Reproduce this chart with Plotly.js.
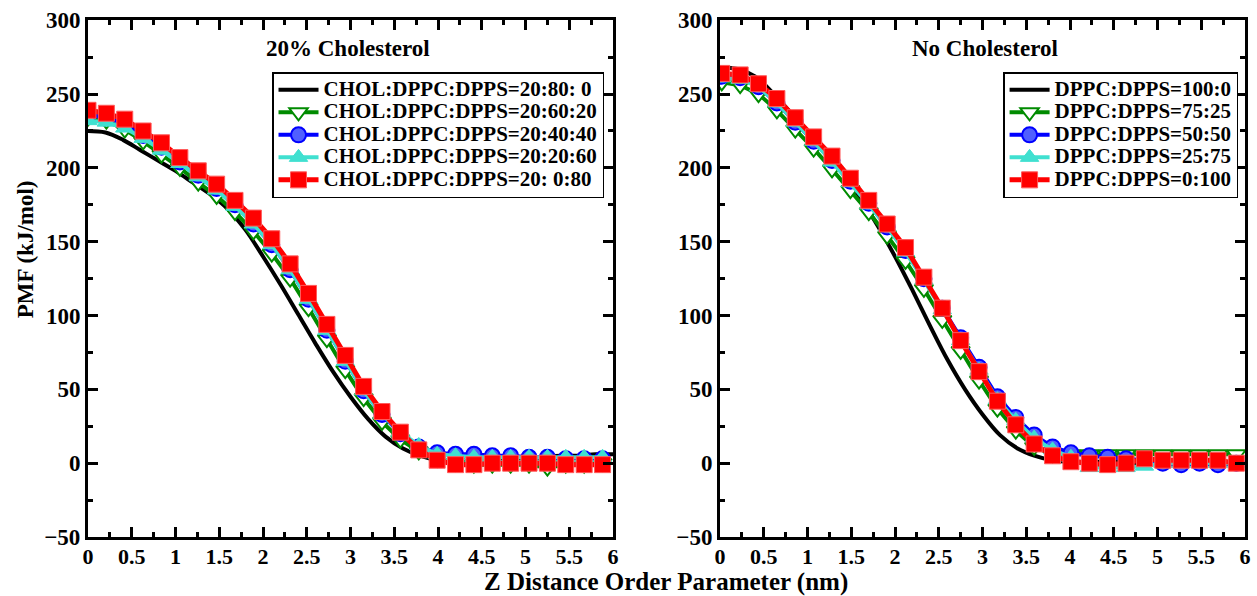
<!DOCTYPE html>
<html><head><meta charset="utf-8">
<script src="https://cdn.plot.ly/plotly-3.0.1.min.js"></script>
<style>body{margin:0;background:#fff}#c{width:1257px;height:596px}</style>
</head><body><div id="c"></div>
<script>
// ---- data ----
const xMarkL = [0,0.21,0.42,0.63,0.84,1.05,1.26,1.47,1.68,1.89,2.1,2.31,2.52,2.73,2.94,3.15,3.36,3.57,3.78,3.99,4.2,4.41,4.62,4.83,5.04,5.25,5.46,5.67,5.88];
const xMarkR = [0.02,0.23,0.44,0.65,0.86,1.07,1.28,1.49,1.7,1.91,2.12,2.33,2.54,2.75,2.96,3.17,3.38,3.59,3.8,4.01,4.22,4.43,4.64,4.85,5.06,5.27,5.48,5.69,5.9];
const xLine = [0,0.2,0.4,0.6,0.8,1.0,1.2,1.4,1.6,1.8,2.0,2.2,2.4,2.6,2.8,3.0,3.2,3.4,3.6,3.8,4.0,4.2,4.4,4.6,4.8,5.0,5.2,5.4,5.6,5.8,6.0];

const blackL = [225,224,219,212,205,198,190,182,172,158,140,121,101,81,62,45,30,18,10,5,2,1,1,1,2,3,4,5,5,6,6];
const greenL = [234,232,226,218,209,200,190,181,170,157,142,125,105,84,63,44,28,16,8,3,0,-1,-1,-1,-1,-3,-1,-1,0];
const blueL  = [236,234,230,222,214,204,195,186,175,162,148,131,111,90,69,49,33,20,11,7,6,6,5,5,4,4,3,3,3];
const cyanL  = [232,231,227,220,212,203,194,185,174,162,148,131,111,90,69,49,33,21,12,6,5,4,4,4,4,4,4,4,4];
const redL   = [239,237,233,225,217,207,198,189,178,166,152,135,115,94,73,52,35,21,9,2,-1,-1,0,0,0,0,-1,-1,-1];

const blackR = [268,267,262,251,238,225,212,198,180,161,140,117,93,70,50,33,19,10,5,2,1,1,1,1,0,0,0,0,0,0,0];
const greenR = [258,256,250,239,226,213,199,185,170,154,137,118,97,76,56,37,22,11,6,6,6,6,6,6,6,6,6,6,6];
const blueR  = [262,261,255,244,231,218,205,191,176,160,144,125,105,85,65,45,31,19,11,7,5,4,3,2,0,-1,0,-1,0];
const cyanR  = [261,260,255,244,231,218,204,190,175,160,143,124,104,83,63,43,29,17,9,4,-3,-3,-3,-2,0,0,0,0,0];
const redR   = [264,263,257,247,234,221,208,193,178,162,146,126,105,83,62,42,26,13,5,1,0,-1,0,3,2,2,2,2,0];

const namesL = ["CHOL:DPPC:DPPS=20:80: 0","CHOL:DPPC:DPPS=20:60:20","CHOL:DPPC:DPPS=20:40:40","CHOL:DPPC:DPPS=20:20:60","CHOL:DPPC:DPPS=20: 0:80"];
const namesR = ["DPPC:DPPS=100:0","DPPC:DPPS=75:25","DPPC:DPPS=50:50","DPPC:DPPS=25:75","DPPC:DPPS=0:100"];
const panelTitles = ["20% Cholesterol","No Cholesterol"];
const xTitle = "Z Distance Order Parameter (nm)";
const yTitle = "PMF (kJ/mol)";

// ---- styles ----
const FONT = "Liberation Serif, Times New Roman, serif";
const GREEN = "rgb(0,139,0)", BLUE = "rgb(0,0,255)", CYAN = "rgb(64,224,208)", RED = "rgb(255,0,0)";
const lg = t => '<span style="font-size:21px">' + t + '</span>';

function series(xa, ya, lgd, names, xs, b, g, bl, c, r) {
  return [
    {x: xLine, y: b, name: lg(names[0]), mode: 'lines', line: {color: 'black', width: 4, shape: 'spline', smoothing: 1}, xaxis: xa, yaxis: ya, legend: lgd},
    {x: xs, y: g, name: lg(names[1]), mode: 'lines+markers', line: {color: GREEN, width: 4}, marker: {symbol: 'triangle-down', size: 16, color: 'white', line: {color: GREEN, width: 2}}, xaxis: xa, yaxis: ya, legend: lgd},
    {x: xs, y: bl, name: lg(names[2]), mode: 'lines+markers', line: {color: BLUE, width: 4}, marker: {symbol: 'circle', size: 15, color: 'rgb(80,95,255)', line: {color: BLUE, width: 2}}, xaxis: xa, yaxis: ya, legend: lgd},
    {x: xs, y: c, name: lg(names[3]), mode: 'lines+markers', line: {color: CYAN, width: 4}, marker: {symbol: 'triangle-up', size: 16, color: CYAN, line: {color: CYAN, width: 1}}, xaxis: xa, yaxis: ya, legend: lgd},
    {x: xs, y: r, name: lg(names[4]), mode: 'lines+markers', line: {color: RED, width: 5}, marker: {symbol: 'square', size: 16, color: RED, line: {color: 'rgb(255,90,90)', width: 1}}, xaxis: xa, yaxis: ya, legend: lgd}
  ];
}

const data = [].concat(
  series('x', 'y', 'legend', namesL, xMarkL, blackL, greenL, blueL, cyanL, redL),
  series('x2', 'y2', 'legend2', namesR, xMarkR, blackR, greenR, blueR, cyanR, redR)
);

const tickfont = {family: FONT, size: 22, color: 'black', weight: 'bold'};
function xax(dom, anchor) {
  return {domain: dom, anchor: anchor, range: [0, 6], dtick: 0.5, tick0: 0, ticks: 'inside', ticklen: 10, tickwidth: 3, tickcolor: 'black',
    showline: true, linewidth: 3, linecolor: 'black', mirror: 'allticks', showgrid: false, zeroline: false,
    minor: {ticks: 'inside', dtick: 0.25, ticklen: 5, tickwidth: 3, tickcolor: 'black', showgrid: false},
    tickfont: tickfont, ticklabelstandoff: -2, fixedrange: true};
}
function yax(anchor) {
  return {domain: [0.099, 0.966], anchor: anchor, range: [-50, 300], dtick: 50, tick0: 0, ticks: 'inside', ticklen: 10, tickwidth: 3, tickcolor: 'black',
    showline: true, linewidth: 3, linecolor: 'black', mirror: 'allticks', showgrid: false, zeroline: false,
    minor: {ticks: 'inside', dtick: 25, ticklen: 5, tickwidth: 3, tickcolor: 'black', showgrid: false},
    tickfont: Object.assign({}, tickfont, {size: 23}), fixedrange: true};
}
const legendBase = {yanchor: 'top', xanchor: 'left', y: 0.879, bgcolor: 'white', bordercolor: 'black', borderwidth: 1.5,
  font: {family: FONT, size: 15, color: 'black', weight: 'bold'}, itemwidth: 40, tracegroupgap: 0, traceorder: 'normal'};

const layout = {
  width: 1257, height: 596, margin: {l: 0, r: 0, t: 0, b: 0},
  paper_bgcolor: 'white', plot_bgcolor: 'white', showlegend: true,
  xaxis: xax([0.0700, 0.4877], 'y'),
  yaxis: yax('x'),
  xaxis2: xax([0.5728, 0.9905], 'y2'),
  yaxis2: yax('x2'),
  legend: Object.assign({}, legendBase, {x: 0.2164}),
  legend2: Object.assign({}, legendBase, {x: 0.798}),
  annotations: [
    {text: panelTitles[0], xref: 'paper', yref: 'paper', x: 0.277, y: 0.919, showarrow: false, xanchor: 'center', yanchor: 'middle', font: {family: FONT, size: 23, color: 'black', weight: 'bold'}},
    {text: panelTitles[1], xref: 'paper', yref: 'paper', x: 0.7836, y: 0.919, showarrow: false, xanchor: 'center', yanchor: 'middle', font: {family: FONT, size: 23, color: 'black', weight: 'bold'}},
    {text: xTitle, xref: 'paper', yref: 'paper', x: 0.53, y: -0.004, showarrow: false, xanchor: 'center', yanchor: 'bottom', font: {family: FONT, size: 25, color: 'black', weight: 'bold'}},
    {text: yTitle, xref: 'paper', yref: 'paper', x: 0.020, y: 0.582, textangle: -90, showarrow: false, xanchor: 'center', yanchor: 'middle', font: {family: FONT, size: 23, color: 'black', weight: 'bold'}}
  ]
};

Plotly.newPlot('c', data, layout, {displayModeBar: false, staticPlot: true});
</script></body></html>
